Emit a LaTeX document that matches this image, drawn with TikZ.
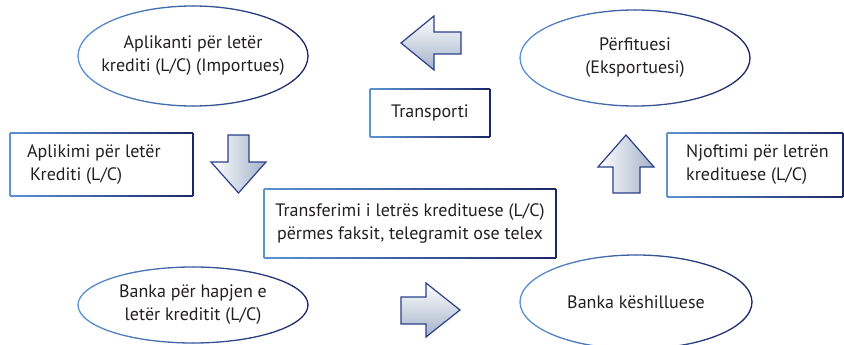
\documentclass[tikz,border=0pt]{standalone}
\usepackage{fontspec}
\setmainfont{PT Sans}
\usetikzlibrary{shapes.geometric}
\definecolor{lb}{HTML}{5C93D3}
\definecolor{db}{HTML}{1C2768}
\definecolor{txt}{HTML}{231F20}
\definecolor{ashade}{HTML}{A3B2C9}
\definecolor{aedge}{HTML}{2B4088}
\tikzset{
  lbl/.style={text=txt, font=\fontsize{18}{23}\selectfont, align=center, inner sep=0pt},
  ell/.style={lbl, ellipse, minimum width=230pt, minimum height=100pt},
  bx/.style={lbl, rectangle},
  barrow/.style={draw=aedge, line width=1.2pt, line join=miter},
}
% gradient ellipse outline: center, rx, ry
\newcommand{\gradell}[3]{%
  \foreach \a in {0,6,...,354}{%
    \pgfmathsetmacro\pp{50+50*cos(\a+3)}%
    \draw[line width=1.3pt, line cap=round, color=db!\pp!lb] (#1) ++(\a:#2 and #3) arc[start angle=\a, end angle=\a+6, x radius=#2, y radius=#3];
  }}
% gradient rectangle outline: x1,y1,x2,y2
\newcommand{\gradbox}[4]{%
  \foreach \i in {0,...,19}{%
    \pgfmathsetmacro\pp{5*\i+2.5}%
    \pgfmathsetmacro\xa{#1+(#3-#1)*\i/20}%
    \pgfmathsetmacro\xb{#1+(#3-#1)*(\i+1)/20}%
    \draw[line width=1.2pt, color=db!\pp!lb] (\xa,#2) -- (\xb,#2);
    \draw[line width=1.2pt, color=db!\pp!lb] (\xa,#4) -- (\xb,#4);
  }
  \draw[line width=1.2pt, color=lb] (#1,#2) -- (#1,#4);
  \draw[line width=1.2pt, color=db] (#3,#2) -- (#3,#4);
}
\begin{document}
\begin{tikzpicture}[x=1pt,y=-1pt]
\useasboundingbox (0,0) rectangle (844,345);
% ellipses
\node[ell] (imp) at (193,56) {Aplikanti për letër\\krediti (L/C) (Importues)};
\gradell{imp.center}{115}{50}
\node[ell] (exp) at (635,58) {Përfituesi\\(Eksportuesi)};
\gradell{exp.center}{115}{48}
\node[ell] (bh) at (193,305) {Banka për hapjen e\\letër kreditit (L/C)};
\gradell{bh.center}{115}{38}
\node[ell] (bk) at (636,302) {Banka këshilluese};
\gradell{bk.center}{116}{47}
% boxes
\gradbox{370}{89}{490}{137}
\node[bx] (tr) at (430,113) {Transporti};
\gradbox{10}{133}{193}{196}
\node[bx, anchor=west, align=left] (apl) at (27,164.5) {Aplikimi për letër\\\hspace{3pt}Krediti (L/C)};
\gradbox{667}{133}{843}{197}
\node[bx, anchor=west, align=left] (njo) at (686,165) {Njoftimi për letrën\\kredituese (L/C)};
\gradbox{264}{189}{556}{258}
\node[bx] (tf) at (410,223) {Transferimi i letrës kredituese (L/C)\\përmes faksit, telegramit ose telex};
% block arrows
\draw[barrow, top color=white, bottom color=ashade] (401,43) -- (434,16) -- (434,32) -- (461,32) -- (461,54) -- (434,54) -- (434,70) -- cycle;
\draw[barrow, left color=white, right color=ashade] (228,135) -- (249,135) -- (249,162) -- (266,162) -- (238.5,193) -- (211,162) -- (228,162) -- cycle;
\draw[barrow, left color=white, right color=ashade] (626,135) -- (654,167) -- (640,167) -- (640,193) -- (613,193) -- (613,167) -- (598,167) -- cycle;
\draw[barrow, top color=white, bottom color=ashade] (401,297) -- (426,297) -- (426,283) -- (460,310) -- (426,337) -- (426,324) -- (401,324) -- cycle;
\end{tikzpicture}
\end{document}
